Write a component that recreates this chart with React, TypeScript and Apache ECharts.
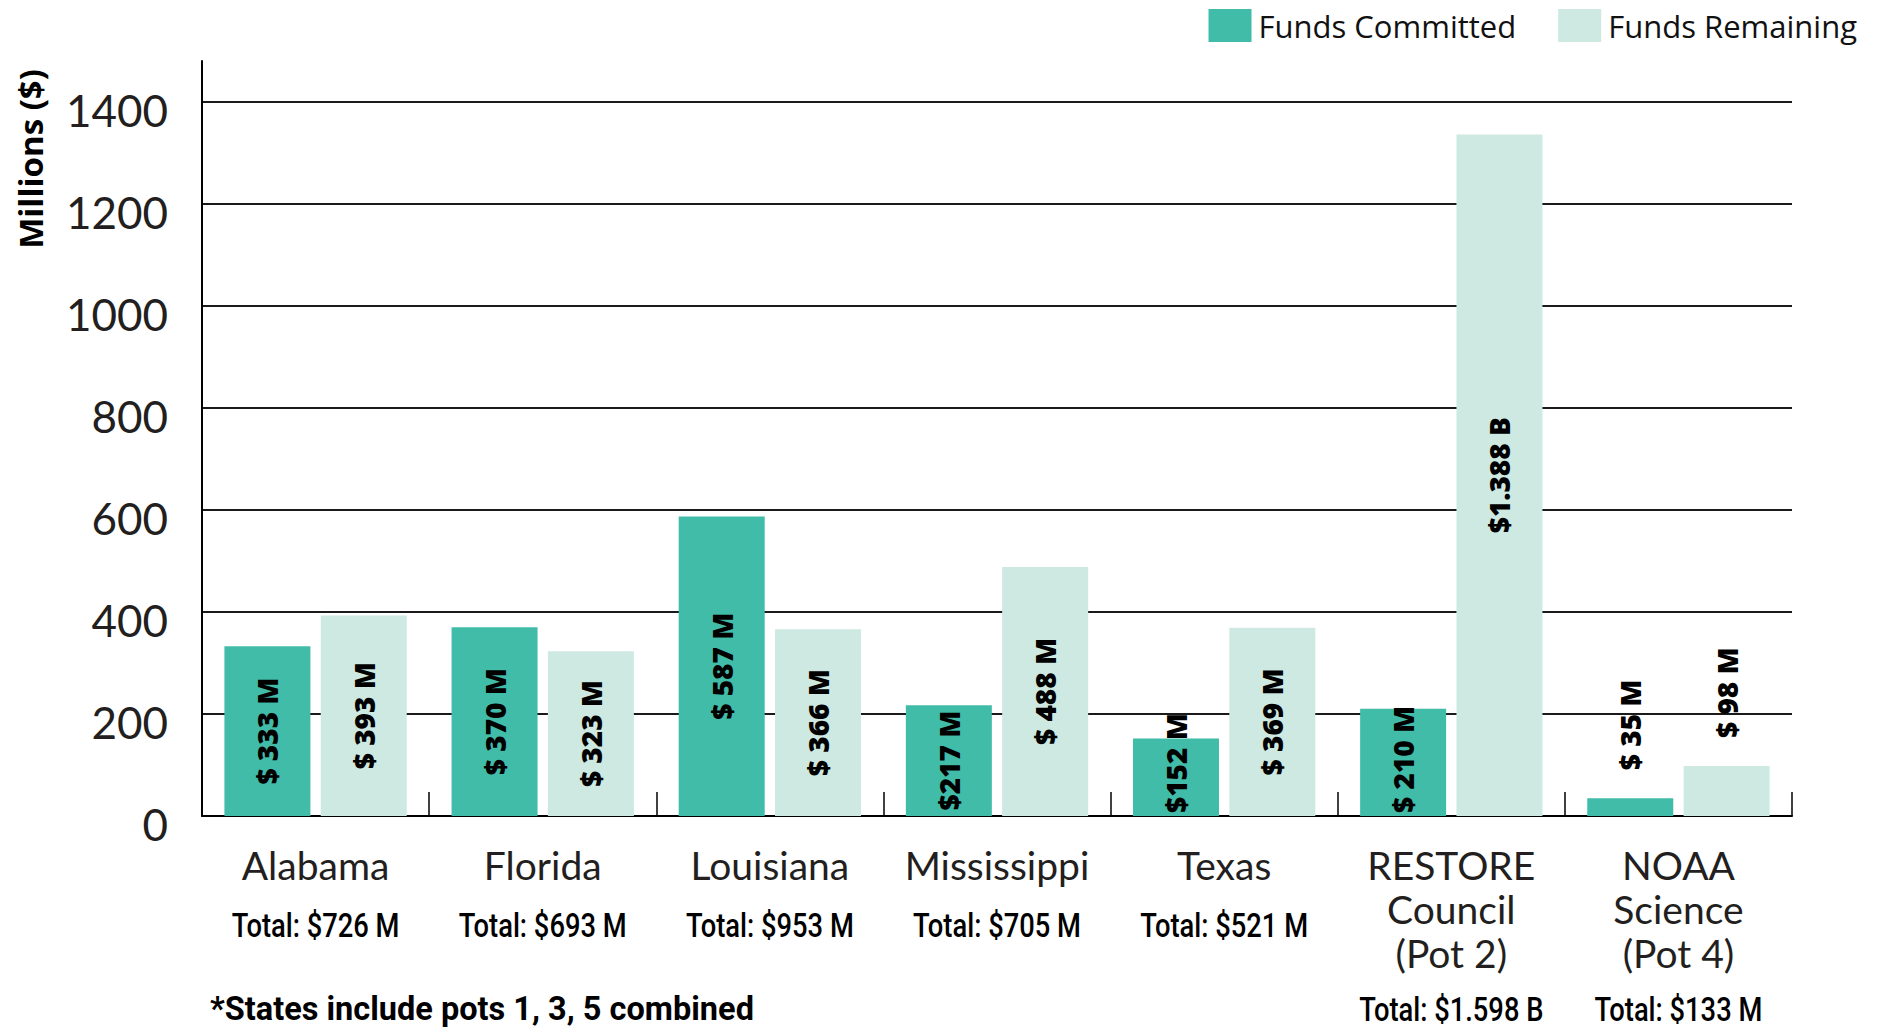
import React, { useEffect, useRef } from "react";
import * as echarts from "echarts";

const categoryLines: string[][] = [
  ["Alabama"],
  ["Florida"],
  ["Louisiana"],
  ["Mississippi"],
  ["Texas"],
  ["RESTORE", "Council", "(Pot 2)"],
  ["NOAA", "Science", "(Pot 4)"],
];
const categories = categoryLines.map((l) => l.join(" "));
const totals = [
  "Total: $726 M",
  "Total: $693 M",
  "Total: $953 M",
  "Total: $705 M",
  "Total: $521 M",
  "Total: $1.598 B",
  "Total: $133 M",
];
const committed = [333, 370, 587, 217, 152, 210, 35];
const remaining = [393, 323, 366, 488, 369, 1336, 98];
const committedLabels = ["$ 333 M", "$ 370 M", "$ 587 M", "$217 M", "$152 M", "$ 210 M", "$ 35 M"];
const remainingLabels = ["$ 393 M", "$ 323 M", "$ 366 M", "$ 488 M", "$ 369 M", "$1.388 B", "$ 98 M"];
const seriesNames = ["Funds Committed", "Funds Remaining"];
const yAxisTitle = "Millions ($)";
const footnote = "*States include pots 1, 3, 5 combined";

const COMMITTED = "#41bca8";
const REMAINING = "#cde9e1";
const BODY = "Lato, 'Open Sans', sans-serif";
const NARROW_FONT = "Roboto, sans-serif";
const Y_MAX = 1480;
const GRID_TOP = 61;
const GRID_BOTTOM = 216;
const CHART_H = 1032;
const LABEL_FONT = "'Open Sans', sans-serif";
const LABEL_SIZE = 28;

function measure(text: string, font: string) {
  const c = document.createElement("canvas").getContext("2d")!;
  c.font = font;
  return c.measureText(text).width;
}

function barData(values: number[], labels: string[]) {
  const pxPerUnit = (CHART_H - GRID_TOP - GRID_BOTTOM) / Y_MAX;
  return values.map((v, i) => {
    const barPx = v * pxPerUnit;
    const labelPx = measure(labels[i], `800 ${LABEL_SIZE}px ${LABEL_FONT}`);
    let position = "inside";
    let align = "center";
    let distance = 5;
    if (v < 100) {
      position = "top";
      align = "left";
      distance = 28;
    } else if (labelPx + 10 > barPx) {
      position = "insideBottom";
      align = "left";
      distance = 3;
    }
    return {
      value: v,
      label: {
        show: true,
        formatter: labels[i],
        rotate: 90,
        position,
        distance,
        align,
        verticalAlign: "middle",
        color: "#000",
        fontFamily: LABEL_FONT,
        fontWeight: 800,
        fontSize: LABEL_SIZE,
      },
    };
  });
}

export default function App() {
  const ref = useRef<HTMLDivElement>(null);
  useEffect(() => {
    document.body.style.margin = "0";
    if (!ref.current) return;
    const chart = echarts.init(ref.current, null, { renderer: "svg" });
    chart.setOption({
      animation: false,
      backgroundColor: "#fff",
      legend: {
        top: 4,
        right: 19,
        itemGap: 42,
        itemWidth: 43,
        itemHeight: 33,
        icon: "rect",
        data: seriesNames,
        textStyle: { fontSize: 31, color: "#111", fontFamily: "'Open Sans', sans-serif", padding: [0, 0, 0, 2] },
      },
      grid: { left: 202, right: 89, top: GRID_TOP, bottom: GRID_BOTTOM },
      xAxis: {
        type: "category",
        data: categories,
        axisLine: { show: true, lineStyle: { color: "#000", width: 2 } },
        axisTick: { show: true, inside: true, length: 24, lineStyle: { color: "#000", width: 1.5 } },
        axisLabel: {
          interval: 0,
          margin: 27,
          formatter: (_v: string, idx: number) => categoryLines[idx].map((l) => `{n|${l}}`).join("\n"),
          rich: {
            n: { fontFamily: BODY, fontSize: 39, color: "#231f20", lineHeight: 44 },
          },
        },
      },
      yAxis: {
        type: "value",
        min: 0,
        max: Y_MAX,
        interval: 200,
        axisLine: { show: true, lineStyle: { color: "#000", width: 2 } },
        axisTick: { show: false },
        splitLine: { show: true, showMaxLine: false, lineStyle: { color: "#1a1a1a", width: 2 } },
        axisLabel: {
          showMaxLabel: false,
          margin: 34,
          formatter: (v: number) => `{a|${v}}`,
          rich: {
            a: { fontSize: 44, fontFamily: BODY, color: "#231f20", padding: [16, 0, 0, 0] },
          },
        },
      },
      series: [
        {
          name: seriesNames[0],
          type: "bar",
          barWidth: 86,
          barGap: "12%",
          itemStyle: { color: COMMITTED },
          data: barData(committed, committedLabels),
          z: 3,
        },
        {
          name: seriesNames[1],
          type: "bar",
          barWidth: 86,
          barGap: "12%",
          itemStyle: { color: REMAINING },
          data: barData(remaining, remainingLabels),
          z: 3,
        },
      ],
    });

    // Totals under each category (horizontally condensed), placed via the axis scale
    const totalFont = `500 34px ${NARROW_FONT}`;
    const totalScale = 168 / measure(totals[0], totalFont);
    const footFont = `bold 33px ${NARROW_FONT}`;
    const footScale = 544 / measure(footnote, footFont);
    const graphics: any[] = [
      {
        type: "text",
        x: 30,
        y: 159,
        rotation: Math.PI / 2,
        style: {
          text: yAxisTitle,
          fontSize: 33,
          fontWeight: "bold",
          fontFamily: "'Open Sans', sans-serif",
          fill: "#000",
          align: "center",
          verticalAlign: "middle",
        },
      },
      {
        type: "text",
        x: 210,
        y: 1009,
        scaleX: footScale,
        style: {
          text: footnote,
          fontSize: 33,
          fontWeight: "bold",
          fontFamily: NARROW_FONT,
          fill: "#000",
          align: "left",
          verticalAlign: "middle",
        },
      },
    ];
    categories.forEach((c, i) => {
      const x = chart.convertToPixel({ xAxisIndex: 0 }, c) as number;
      const y = 847 + categoryLines[i].length * 42 + 36;
      graphics.push({
        type: "text",
        x,
        y,
        scaleX: totalScale,
        style: {
          text: totals[i],
          fontSize: 34,
          fontWeight: 500,
          fontFamily: NARROW_FONT,
          fill: "#000",
          align: "center",
          verticalAlign: "middle",
        },
      });
    });
    chart.setOption({ graphic: graphics });
    return () => chart.dispose();
  }, []);
  return <div ref={ref} style={{ width: 1881, height: CHART_H }} />;
}
